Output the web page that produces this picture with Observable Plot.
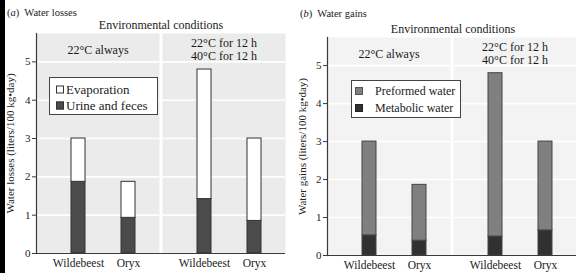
<!DOCTYPE html>
<html>
<head>
<meta charset="utf-8">
<script src="https://cdn.jsdelivr.net/npm/d3@7"></script>
<script src="https://cdn.jsdelivr.net/npm/@observablehq/plot@0.6"></script>
<style>
  body { margin: 0; background: #fff; }
  #fig { position: relative; width: 576px; height: 273px; font-family: 'Liberation Serif', serif; color: #222; overflow: hidden; }
  #fig .abs { position: absolute; white-space: nowrap; line-height: 1; }
  .legend { position: absolute; background: #fff; border: 1px solid #444; box-sizing: border-box; }
  .legend .item { position: absolute; display: flex; align-items: center; white-space: nowrap; line-height: 1; transform: translateY(-50%); }
  .legend .sw { width: 8px; height: 8px; box-sizing: border-box; border: 1px solid #333; }
</style>
</head>
<body>
<div id="fig"></div>
<script>
// ---- data ----
const animals = ["Wildebeest", "Oryx"];
const conditions = ["22°C always", "22°C for 12 h\n40°C for 12 h"];
const yTicks = [0, 1, 2, 3, 4, 5];

// values ordered: [22°C Wildebeest, 22°C Oryx, 22/40°C Wildebeest, 22/40°C Oryx]
const lossTypes = ["Urine and feces", "Evaporation"];
const urineFeces = [1.87, 0.93, 1.42, 0.85];
const evaporation = [1.13, 0.94, 3.38, 2.15];

const gainTypes = ["Metabolic water", "Preformed water"];
const metabolicWater = [0.53, 0.39, 0.50, 0.66];
const preformedWater = [2.47, 1.47, 4.30, 2.34];

// ---- styles ----
const axisColor = "#3a3a3a";
const lossColors = ["#4b4b4b", "#ffffff"];
const gainColors = ["#313131", "#808080"];

function rowsOf(types, series) {
  const rows = [];
  types.forEach((t, ti) => {
    conditions.forEach((c, ci) => {
      animals.forEach((a, ai) => {
        rows.push({cond: c, animal: a, type: t, value: series[ti][ci * 2 + ai]});
      });
    });
  });
  return rows;
}

function panel(o) {
  return Plot.plot({
    width: 288, height: 273,
    marginLeft: o.marginLeft, marginRight: o.marginRight,
    marginTop: o.marginTop, marginBottom: o.marginBottom,
    style: {fontFamily: "'Liberation Serif', serif", fontSize: "11px", color: "#222", background: "none", overflow: "visible"},
    fx: {domain: conditions, paddingInner: 0.024, paddingOuter: 0, axis: null, label: null},
    x: {domain: animals, paddingInner: 0.72, paddingOuter: 0.59, align: 0.6, label: null},
    y: {domain: [0, 5.74], label: null},
    color: {domain: o.types, range: o.colors},
    marks: [
      Plot.frame({fill: o.bg, stroke: "none"}),
      Plot.gridY(yTicks, {stroke: "white", strokeOpacity: 1, strokeWidth: 1.6}),
      Plot.barY(o.rows, {fx: "cond", x: "animal", y: "value", fill: "type", stroke: o.stroke, strokeWidth: 1}),
      Plot.ruleY([0], {stroke: axisColor, strokeWidth: 1.2, insetLeft: -3}),
      Plot.frame({anchor: "left", stroke: axisColor, strokeWidth: 1.2, facetAnchor: "left"}),
      Plot.axisY(yTicks, {tickSize: 4, tickPadding: 2, fontSize: 11, stroke: axisColor,
        label: o.label, labelAnchor: "center", labelOffset: o.labelOffset, labelArrow: "none"}),
      Plot.axisX({tickSize: 0, tickPadding: 5, fontSize: 11.5, label: null}),
      Plot.text(conditions, {fx: d => d, text: d => d, frameAnchor: "top", lineAnchor: "middle",
        dy: 16, fontSize: 12, lineHeight: 1.05, fill: "#1a1a1a"})
    ]
  });
}

const fig = document.getElementById("fig");

const left = panel({
  rows: rowsOf(lossTypes, [urineFeces, evaporation]), types: lossTypes, colors: lossColors,
  stroke: "#333", bg: "#ebebeb", label: "Water losses (liters/100 kg•day)",
  marginLeft: 36, marginRight: 3, marginTop: 33, marginBottom: 20, labelOffset: 30
});
left.style.position = "absolute"; left.style.left = "0px"; left.style.top = "0px";
fig.appendChild(left);

const right = panel({
  rows: rowsOf(gainTypes, [metabolicWater, preformedWater]), types: gainTypes, colors: gainColors,
  stroke: "#444", bg: "#f3f3f3", label: "Water gains (liters/100 kg•day)",
  marginLeft: 39, marginRight: 0, marginTop: 37, marginBottom: 18, labelOffset: 29
});
right.style.position = "absolute"; right.style.left = "288px"; right.style.top = "0px";
fig.appendChild(right);

// left black strip
const strip = document.createElement("div");
strip.style.cssText = "position:absolute;left:0;top:0;width:5px;height:273px;background:#000";
fig.appendChild(strip);

function addText(html, x, y, size, anchor) {
  const d = document.createElement("div");
  d.className = "abs";
  d.innerHTML = html;
  d.style.left = x + "px"; d.style.top = y + "px"; d.style.fontSize = size + "px";
  d.style.transform = anchor === "center" ? "translate(-50%,-50%)" : "translate(0,-50%)";
  fig.appendChild(d);
}
addText("(<i>a</i>)&nbsp; Water losses", 7, 13, 10.5, "left");
addText("(<i>b</i>)&nbsp; Water gains", 300, 14, 10.5, "left");
addText("Environmental conditions", 161, 25, 12, "center");
addText("Environmental conditions", 453, 29, 12, "center");

function addLegend(types, colors, strokes, box, swX, txtX, rowsY, size) {
  const lg = document.createElement("div");
  lg.className = "legend";
  lg.style.left = box[0] + "px"; lg.style.top = box[1] + "px";
  lg.style.width = box[2] + "px"; lg.style.height = box[3] + "px";
  types.forEach((t, i) => {
    const it = document.createElement("div");
    it.className = "item";
    it.style.left = swX + "px"; it.style.top = rowsY[i] + "px"; it.style.fontSize = size + "px";
    const sw = document.createElement("div");
    sw.className = "sw"; sw.style.background = colors[i]; sw.style.borderColor = strokes[i];
    sw.style.marginRight = (txtX - swX - 8) + "px";
    it.appendChild(sw);
    it.appendChild(document.createTextNode(t));
    lg.appendChild(it);
  });
  fig.appendChild(lg);
}
// legend lists top item first (reverse of stacking order)
addLegend([lossTypes[1], lossTypes[0]], [lossColors[1], lossColors[0]], ["#333", "#333"],
  [49, 77, 109, 38], 6, 16, [11, 27], 13);
addLegend([gainTypes[1], gainTypes[0]], [gainColors[1], gainColors[0]], ["#555", "#222"],
  [351, 80, 110, 38], 3, 23, [10, 27], 12);
</script>
</body>
</html>
